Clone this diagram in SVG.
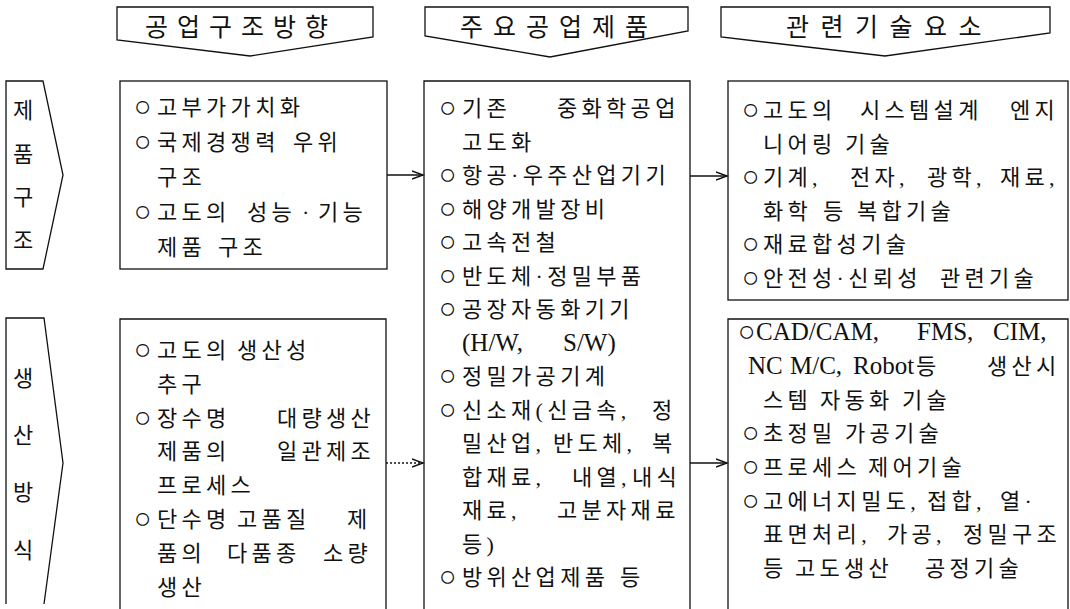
<svg xmlns="http://www.w3.org/2000/svg" width="1070" height="609" viewBox="0 0 1070 609">
<style>
.bg{fill:#fff}
.ln{fill:none;stroke:#111;stroke-width:1.3}
.dot{stroke-dasharray:2 2}
.h{font-family:"Liberation Serif","Noto Sans CJK KR",serif;font-size:25px;fill:#111}
.t{font-family:"Liberation Serif","Noto Sans CJK KR",serif;font-size:22px;letter-spacing:4.3px;fill:#111}
.l{font-size:25px;letter-spacing:0}
.c{font-size:29px;letter-spacing:0}
</style>
<defs>
<marker id="ah" markerUnits="userSpaceOnUse" markerWidth="14" markerHeight="12" refX="11" refY="5" orient="auto">
<path d="M0,1 L11,5 L0,9" fill="none" stroke="#111" stroke-width="1.4"/>
</marker>
</defs>
<rect class="bg" width="1070" height="609"/>

<g id="header1"><path class="ln" d="M117,7 L373,7 L373,37 L250,56 L117,40 Z"/><text class="h" x="145" y="36" style="letter-spacing:9px">공업구조방향</text></g>
<g id="header2"><path class="ln" d="M425,7 L688,7 L688,31 L550,57 L425,36 Z"/><text class="h" x="460" y="36" style="letter-spacing:10px">주요공업제품</text></g>
<g id="header3"><path class="ln" d="M721,7 L1050,7 L1050,33 L885,56 L721,37 Z"/><text class="h" x="786" y="36" style="letter-spacing:11.5px">관련기술요소</text></g>

<g id="label1"><path class="ln" d="M6,81 L43,81 L63,175 L43,269 L6,269 Z"/>
<text class="t" text-anchor="middle" style="letter-spacing:0"><tspan x="23" y="118">제</tspan><tspan x="23" y="162">품</tspan><tspan x="23" y="205">구</tspan><tspan x="23" y="248">조</tspan></text></g>
<g id="label2"><path class="ln" d="M6,604 L6,318 L44,318 L63,463 L44,604"/>
<text class="t" text-anchor="middle" style="letter-spacing:0"><tspan x="23" y="386">생</tspan><tspan x="23" y="443">산</tspan><tspan x="23" y="500">방</tspan><tspan x="23" y="558">식</tspan></text></g>

<g id="box1"><rect class="ln" x="120" y="81" width="267" height="188"/>
<text class="t"><tspan class="c" x="134" y="116">○</tspan><tspan x="157" y="115">고부가가치화</tspan></text>
<text class="t"><tspan class="c" x="134" y="151">○</tspan><tspan x="157" y="150">국제경쟁력</tspan><tspan x="293" y="150">우위</tspan></text>
<text class="t" x="157" y="185">구조</text>
<text class="t"><tspan class="c" x="134" y="221">○</tspan><tspan x="157" y="220">고도의</tspan><tspan x="247" y="220">성능</tspan><tspan x="302" y="220">·</tspan><tspan x="318" y="220">기능</tspan></text>
<text class="t"><tspan x="157" y="255">제품</tspan><tspan x="218" y="255">구조</tspan></text>
</g>

<g id="box2"><path class="ln" d="M120,609 L120,319 L386,319 L386,609"/>
<text class="t"><tspan class="c" x="134" y="359">○</tspan><tspan x="157" y="358">고도의</tspan><tspan x="237" y="358">생산성</tspan></text>
<text class="t" x="157" y="392">추구</text>
<text class="t"><tspan class="c" x="134" y="427">○</tspan><tspan x="157" y="426">장수명</tspan><tspan x="277" y="426">대량생산</tspan></text>
<text class="t"><tspan x="157" y="459">제품의</tspan><tspan x="277" y="459">일관제조</tspan></text>
<text class="t" x="157" y="493">프로세스</text>
<text class="t"><tspan class="c" x="134" y="528">○</tspan><tspan x="157" y="527">단수명</tspan><tspan x="237" y="527">고품질</tspan><tspan x="347" y="527">제</tspan></text>
<text class="t"><tspan x="157" y="561">품의</tspan><tspan x="227" y="561">다품종</tspan><tspan x="323" y="561">소량</tspan></text>
<text class="t" x="157" y="595">생산</text>
</g>

<g id="middle"><path class="ln" d="M424,609 L424,81 L690,81 L690,609"/>
<text class="t"><tspan class="c" x="439" y="117">○</tspan><tspan x="462" y="116">기존</tspan><tspan x="557" y="116">중화학공업</tspan></text>
<text class="t" x="462" y="149.5">고도화</text>
<text class="t"><tspan class="c" x="439" y="184">○</tspan><tspan x="462" y="183">항공·우주산업기기</tspan></text>
<text class="t"><tspan class="c" x="439" y="217.5">○</tspan><tspan x="462" y="216.5">해양개발장비</tspan></text>
<text class="t"><tspan class="c" x="439" y="251">○</tspan><tspan x="462" y="250">고속전철</tspan></text>
<text class="t"><tspan class="c" x="439" y="284.5">○</tspan><tspan x="462" y="283.5">반도체·정밀부품</tspan></text>
<text class="t"><tspan class="c" x="439" y="318">○</tspan><tspan x="462" y="317">공장자동화기기</tspan></text>
<text class="t"><tspan class="l" x="462" y="350.5">(H/W,</tspan><tspan class="l" x="563" y="350.5">S/W)</tspan></text>
<text class="t"><tspan class="c" x="439" y="385">○</tspan><tspan x="462" y="384">정밀가공기계</tspan></text>
<text class="t"><tspan class="c" x="439" y="418.5">○</tspan><tspan x="462" y="417.5">신소재(신금속,</tspan><tspan x="652" y="417.5">정</tspan></text>
<text class="t"><tspan x="462" y="451">밀산업,</tspan><tspan x="553" y="451">반도체,</tspan><tspan x="652" y="451">복</tspan></text>
<text class="t"><tspan x="462" y="484.5">합재료,</tspan><tspan x="572" y="484.5">내열,</tspan><tspan x="632" y="484.5">내식</tspan></text>
<text class="t"><tspan x="462" y="518">재료,</tspan><tspan x="557" y="518">고분자재료</tspan></text>
<text class="t" x="462" y="551.5">등)</text>
<text class="t"><tspan class="c" x="439" y="586">○</tspan><tspan x="462" y="585">방위산업제품</tspan><tspan x="620" y="585">등</tspan></text>
</g>

<g id="right1"><rect class="ln" x="728" y="81" width="340" height="219"/>
<text class="t"><tspan class="c" x="742" y="119">○</tspan><tspan x="763" y="118">고도의</tspan><tspan x="860" y="118">시스템설계</tspan><tspan x="1010" y="118">엔지</tspan></text>
<text class="t"><tspan x="763" y="151.5">니어링</tspan><tspan x="845" y="151.5">기술</tspan></text>
<text class="t"><tspan class="c" x="742" y="186">○</tspan><tspan x="763" y="185">기계,</tspan><tspan x="850" y="185">전자,</tspan><tspan x="927" y="185">광학,</tspan><tspan x="1000" y="185">재료,</tspan></text>
<text class="t"><tspan x="763" y="218.5">화학</tspan><tspan x="823" y="218.5">등</tspan><tspan x="857" y="218.5">복합기술</tspan></text>
<text class="t"><tspan class="c" x="742" y="253">○</tspan><tspan x="763" y="252">재료합성기술</tspan></text>
<text class="t"><tspan class="c" x="742" y="286.5">○</tspan><tspan x="763" y="285.5">안전성·신뢰성</tspan><tspan x="940" y="285.5">관련기술</tspan></text>
</g>

<g id="right2"><path class="ln" d="M728,609 L728,319 L1068,319 L1068,609"/>
<text class="t"><tspan class="c" x="738" y="341">○</tspan><tspan class="l" x="756" y="340">CAD/CAM,</tspan><tspan class="l" x="917" y="340">FMS,</tspan><tspan class="l" x="993" y="340">CIM,</tspan></text>
<text class="t"><tspan class="l" x="748" y="373.5">NC</tspan><tspan class="l" x="790" y="373.5">M/C,</tspan><tspan class="l" x="853" y="373.5">Robot</tspan><tspan x="916" y="373.5">등</tspan><tspan x="987" y="373.5">생산시</tspan></text>
<text class="t"><tspan x="763" y="407.5">스템</tspan><tspan x="820" y="407.5">자동화</tspan><tspan x="902" y="407.5">기술</tspan></text>
<text class="t"><tspan class="c" x="742" y="442">○</tspan><tspan x="763" y="441">초정밀</tspan><tspan x="845" y="441">가공기술</tspan></text>
<text class="t"><tspan class="c" x="742" y="476">○</tspan><tspan x="763" y="475">프로세스</tspan><tspan x="868" y="475">제어기술</tspan></text>
<text class="t"><tspan class="c" x="742" y="509.5">○</tspan><tspan x="763" y="508.5">고에너지밀도,</tspan><tspan x="927" y="508.5">접합,</tspan><tspan x="1000" y="508.5">열·</tspan></text>
<text class="t"><tspan x="763" y="542">표면처리,</tspan><tspan x="887" y="542">가공,</tspan><tspan x="963" y="542">정밀구조</tspan></text>
<text class="t"><tspan x="763" y="576">등</tspan><tspan x="795" y="576">고도생산</tspan><tspan x="925" y="576">공정기술</tspan></text>
</g>

<g id="connectors">
<line class="ln" x1="387" y1="175" x2="423" y2="175" marker-end="url(#ah)"/>
<line class="ln" x1="690" y1="176" x2="727" y2="176" marker-end="url(#ah)"/>
<line class="ln dot" x1="386" y1="463" x2="423" y2="463" marker-end="url(#ah)"/>
<line class="ln" x1="690" y1="463" x2="727" y2="463" marker-end="url(#ah)"/>
</g>
</svg>
